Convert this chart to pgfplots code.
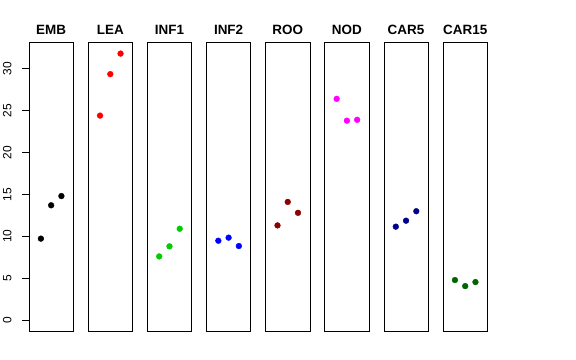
\documentclass[border=0pt]{standalone}
\usepackage{pgfplots}
\pgfplotsset{compat=1.18}
\usepackage{fontspec}
\setmainfont{Liberation Sans}
\definecolor{rgreen}{RGB}{0,205,0}
\definecolor{rdarkred}{RGB}{139,0,0}
\definecolor{rdarkblue}{RGB}{0,0,139}
\definecolor{rdarkgreen}{RGB}{0,100,0}
\definecolor{rmagenta}{RGB}{255,0,255}
\pgfplotsset{
  panel/.style={
    scale only axis, width=44.3bp, height=288.3bp,
    xmin=-0.16, xmax=4.16, ymin=-1.3, ymax=33.1,
    xtick=\empty, ytick=\empty,
    axis line style={line width=0.8bp, black},
    anchor=south west, clip=false,
    title style={at={(0.5,1)}, anchor=base, yshift=2.42bp, inner sep=0pt,
      font=\bfseries\fontsize{13.5}{14}\selectfont},
  },
  pts/.style={only marks, mark=*, mark size=2.9bp, color=#1, mark options={draw=#1, fill=#1}},
}
\begin{document}
\begin{tikzpicture}
\path (0,0) rectangle (576bp,360bp);
\begin{axis}[panel, at={(29bp,29bp)}, title={EMB},
  ytick={0,5,10,15,20,25,30}, ytick pos=left, tick align=outside,
  major tick length=7bp, ytick style={draw=black, line width=0.8bp},
  yticklabel={\rotatebox{90}{\pgfmathprintnumber[assume math mode=true]{\tick}}},
  yticklabel style={anchor=east, inner sep=0pt, xshift=-10.3bp, font=\fontsize{12}{12}\selectfont}]
\addplot[pts=black] coordinates {(1,9.72) (2,13.7) (3,14.8)};
\end{axis}
\begin{axis}[panel, at={(88.15bp,29bp)}, title={LEA}]
\addplot[pts=red] coordinates {(1,24.4) (2,29.35) (3,31.8)};
\end{axis}
\begin{axis}[panel, at={(147.3bp,29bp)}, title={INF1}]
\addplot[pts=rgreen] coordinates {(1,7.6) (2,8.8) (3,10.9)};
\end{axis}
\begin{axis}[panel, at={(206.45bp,29bp)}, title={INF2}]
\addplot[pts=blue] coordinates {(1,9.47) (2,9.84) (3,8.84)};
\end{axis}
\begin{axis}[panel, at={(265.6bp,29bp)}, title={ROO}]
\addplot[pts=rdarkred] coordinates {(1,11.3) (2,14.1) (3,12.8)};
\end{axis}
\begin{axis}[panel, at={(324.75bp,29bp)}, title={NOD}]
\addplot[pts=rmagenta] coordinates {(1,26.4) (2,23.8) (3,23.9)};
\end{axis}
\begin{axis}[panel, at={(383.9bp,29bp)}, title={CAR5}]
\addplot[pts=rdarkblue] coordinates {(1,11.15) (2,11.86) (3,12.99)};
\end{axis}
\begin{axis}[panel, at={(443.05bp,29bp)}, title={CAR15}]
\addplot[pts=rdarkgreen] coordinates {(1,4.78) (2,4.06) (3,4.54)};
\end{axis}
\end{tikzpicture}
\end{document}
